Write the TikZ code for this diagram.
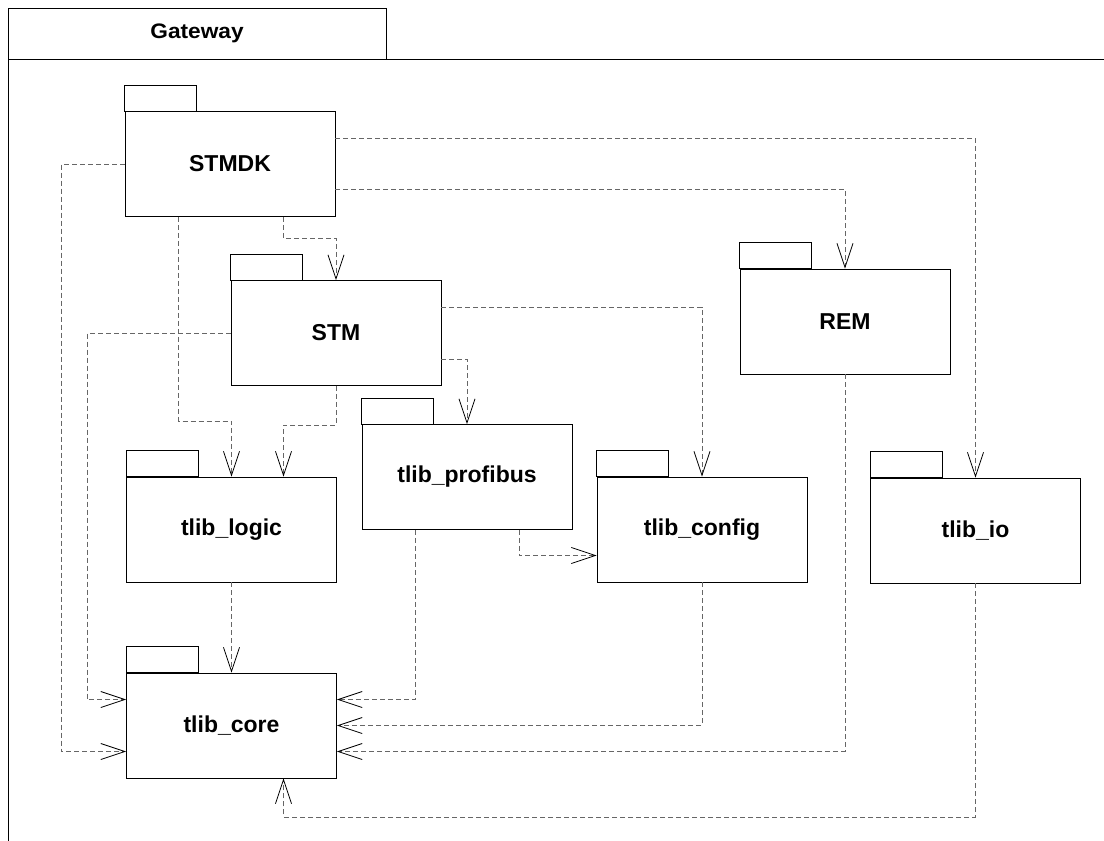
\documentclass[tikz,border=0pt]{standalone}
\usepackage{fontspec}
\setmainfont{Liberation Sans}
\usetikzlibrary{arrows.meta}
\begin{document}
\begin{tikzpicture}[x=1pt,y=-1pt,
  pkg/.style={draw=black, line width=0.9pt, minimum width=210pt, minimum height=105pt,
    inner sep=0pt, fill=white, font=\fontsize{23}{27}\selectfont\bfseries},
  tab/.style={draw=black, line width=0.9pt},
  dep/.style={draw=black!60, line width=0.9pt, dash pattern=on 5pt off 3pt,
    -{Straight Barb[length=24pt,width=16pt,color=black,line width=0.8pt]}},
  frame/.style={draw=black, line width=1pt}]
\useasboundingbox (0,0) rectangle (1104,841);

% enclosing package frame
\draw[frame] (8,850) -- (8,8) -- (386,8) -- (386,59);
\draw[frame] (8,59) -- (1110,59);
\node (gw) at (197,33.5) {\fontsize{21}{24}\selectfont\bfseries\scalebox{1.08}[1]{Gateway}};

% packages
\node[pkg] (stmdk)  at (230,164)     {STMDK};
\node[pkg] (stm)    at (336,333)     {STM};
\node[pkg] (rem)    at (845,321.5)   {REM};
\node[pkg] (prof)   at (467,477)     {tlib\_profibus};
\node[pkg] (logic)  at (231.5,529.5) {tlib\_logic};
\node[pkg] (config) at (702,529.5)   {tlib\_config};
\node[pkg] (io)     at (975.5,530.5) {tlib\_io};
\node[pkg] (core)   at (231.5,725.5) {tlib\_core};

\foreach \p in {stmdk,stm,rem,prof,logic,config,io,core}
  \draw[tab] (\p.north west) rectangle ++(72,-26);

% dependencies
\draw[dep] ([yshift=26pt]stmdk.east) -| (io.north);
\draw[dep] ([yshift=-25pt]stmdk.east) -| (rem.north);
\draw[dep] ([xshift=53pt]stmdk.south) -- ++(0,21) -| (stm.north);
\draw[dep] ([xshift=-51.5pt]stmdk.south) -- ++(0,204) -| (logic.north);
\draw[dep] (stmdk.west) -- ++(-63.5,0) |- ([yshift=-26pt]core.west);

\draw[dep] (stm.west) -- ++(-143.5,0) |- ([yshift=26pt]core.west);
\draw[dep] (stm.south) -- ++(0,39) -| ([xshift=52pt]logic.north);
\draw[dep] ([yshift=26pt]stm.east) -| (config.north);
\draw[dep] ([yshift=-26pt]stm.east) -| (prof.north);

\draw[dep] ([xshift=52pt]prof.south) |- ([yshift=-26pt]config.west);
\draw[dep] ([xshift=-52pt]prof.south) |- ([yshift=26pt]core.east);

\draw[dep] (logic.south) -- (core.north);
\draw[dep] (config.south) |- (core.east);
\draw[dep] (rem.south) |- ([yshift=-26pt]core.east);
\draw[dep] (io.south) -- ++(0,233.5) -| ([xshift=52pt]core.south);
\end{tikzpicture}
\end{document}
